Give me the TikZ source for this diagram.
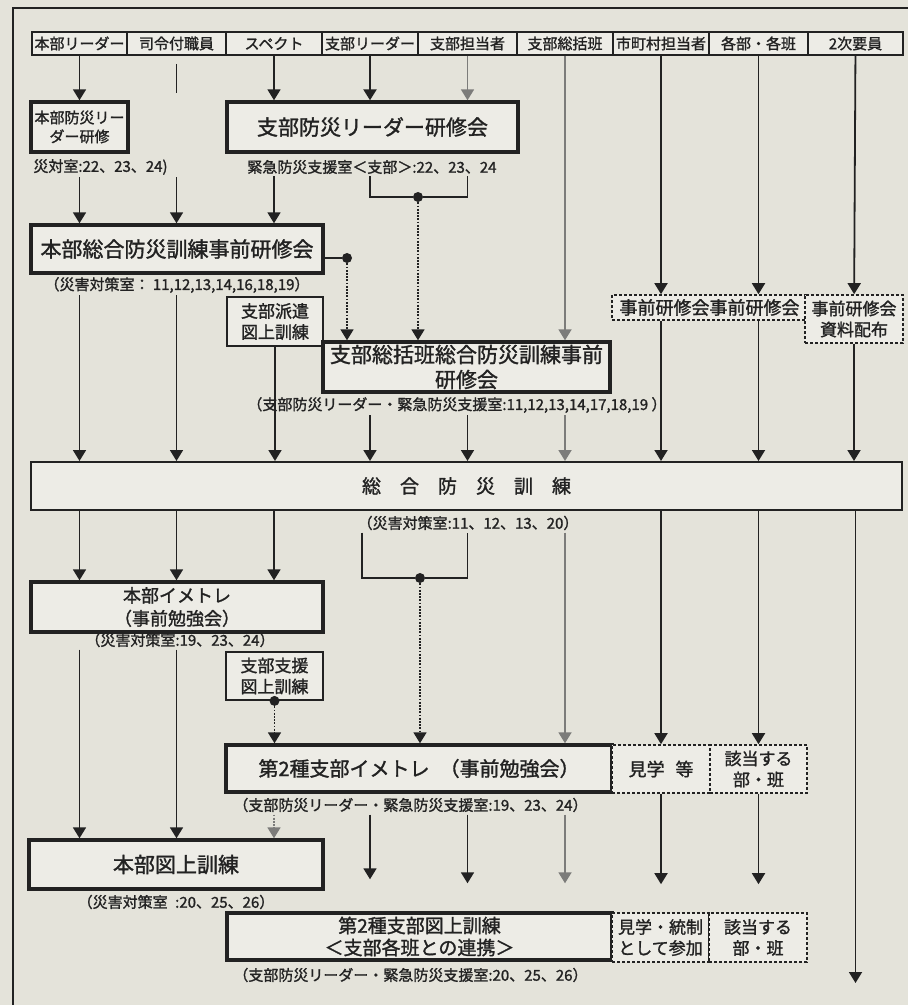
\documentclass[tikz,border=0pt]{standalone}
\usepackage{fontspec}
\setmainfont{Noto Sans CJK JP}[FakeBold=1.4]
\usetikzlibrary{arrows.meta}
\definecolor{paperBg}{HTML}{E4E3DA}
\definecolor{boxFill}{HTML}{EDECE6}
\definecolor{inkDark}{HTML}{222222}
\definecolor{inkGray}{HTML}{7C7C7A}

\begin{document}
\begin{tikzpicture}[x=0.5pt, y=-0.5pt,
    box/.style={rectangle, draw=inkDark, fill=boxFill, line width=1.7pt,
                inner sep=1pt, align=center, text=inkDark,
                font=\fontsize{10.5pt}{12.5pt}\selectfont},
    thinbox/.style={box, line width=0.9pt,
                font=\fontsize{8.5pt}{10.5pt}\selectfont},
    dashbox/.style={box, line width=0.8pt, dash pattern=on 1.5pt off 1pt,
                font=\fontsize{8.5pt}{10.5pt}\selectfont},
    head/.style={rectangle, draw=inkDark, fill=boxFill, line width=1pt,
                minimum height=11.5pt, inner sep=0pt, text=inkDark,
                font=\fontsize{7.5pt}{8pt}\selectfont},
    note/.style={inner sep=1pt, text=inkDark,
                font=\fontsize{7.5pt}{8pt}\selectfont},
    wire/.style={draw=inkDark, line width=0.9pt},
    flow/.style={wire, -{Triangle[width=6.5pt,length=5.5pt]}},
    dimflow/.style={flow, draw=inkGray},
    dotflow/.style={flow, dash pattern=on 0.9pt off 0.7pt},
    dot/.style={circle, fill=inkDark, inner sep=0pt, minimum size=5pt},
    stopshort/.style={shorten >=14pt},
  ]
  \fill[paperBg] (0,0) rectangle (908,1005);
  \useasboundingbox (0,0) rectangle (908,1005);
  \draw[inkDark, line width=1.2pt] (13,1005) -- (13,8) -- (908,8);

  % header row
  \node[head, minimum width=47.5pt] (h1) at (79.5,43.5) {本部リーダー};
  \node[head, minimum width=49.5pt] (h2) at (176.5,43.5) {司令付職員};
  \node[head, minimum width=48pt] (h3) at (274,43.5) {スペクト};
  \node[head, minimum width=48pt] (h4) at (370,43.5) {支部リーダー};
  \node[head, minimum width=49.5pt] (h5) at (467.5,43.5) {支部担当者};
  \node[head, minimum width=48pt] (h6) at (565,43.5) {支部総括班};
  \node[head, minimum width=48pt] (h7) at (661,43.5) {市町村担当者};
  \node[head, minimum width=49.5pt] (h8) at (758.5,43.5) {各部・各班};
  \node[head, minimum width=47.5pt] (h9) at (855.5,43.5) {2次要員};

  % leader courses
  \node[box, minimum width=48.5pt, minimum height=25pt,
        font=\fontsize{7.5pt}{9.5pt}\selectfont] (b1) at (79.5,127) {本部防災リー\\ダー研修};
  \node[box, minimum width=145.5pt, minimum height=25pt] (b2) at (372.5,127) {支部防災リーダー研修会};
  \node[note, anchor=west] (lb1) at (31,167) {災対室:22、23、24)};
  \node[note, anchor=west] (lb2) at (245,167) {緊急防災支援室＜支部＞:22、23、24};
  \node[dot] (k1) at (418,197) {};

  % pre-training
  \node[box, minimum width=146pt, minimum height=24pt] (b3) at (177,249) {本部総合防災訓練事前研修会};
  \node[dot] (k2) at (347,258) {};
  \node[note] (lb3) at (177,285) {（災害対策室： 11,12,13,14,16,18,19）};
  \node[thinbox, minimum width=48pt, minimum height=24.5pt] (b3a) at (275,321.5) {支部派遣\\図上訓練};
  \node[box, minimum width=143.5pt, minimum height=25pt] (b4) at (466.5,367) {支部総括班総合防災訓練事前\\研修会};
  \node[note, anchor=west] (lb4) at (245,405) {（支部防災リーダー・緊急防災支援室:11,12,13,14,17,18,19 ）};
  \node[dashbox, minimum width=97.5pt, minimum height=12.5pt,
        font=\fontsize{9pt}{10pt}\selectfont] (d1) at (709.5,307.5) {事前研修会事前研修会};
  \node[dashbox, minimum width=49pt, minimum height=24pt] (d2) at (854,319) {事前研修会\\資料配布};

  % main drill
  \node[box, line width=1pt, minimum width=435.5pt, minimum height=24pt,
        font=\fontsize{9.5pt}{11pt}\selectfont] (b5) at (466.5,486)
        {総\hspace{1em}合\hspace{1em}防\hspace{1em}災\hspace{1em}訓\hspace{1em}練};
  \node[note] (lb5) at (468,523) {（災害対策室:11、12、13、20）};
  \node[dot] (k3) at (420,578) {};

  % image training
  \node[box, minimum width=146pt, minimum height=25pt,
        font=\fontsize{9pt}{11.5pt}\selectfont] (b6) at (177,607) {本部イメトレ\\（事前勉強会）};
  \node[note] (lb6) at (180,640) {（災害対策室:19、23、24）};
  \node[thinbox, minimum width=48.5pt, minimum height=24pt] (b6a) at (274.5,676) {支部支援\\図上訓練};
  \node[dot] (k4) at (b6a.south) {};
  \node[box, minimum width=193pt, minimum height=23.5pt,
        font=\fontsize{10pt}{12pt}\selectfont] (b7) at (419,768.5) {第2種支部イメトレ\hspace{0.5em}（事前勉強会）};
  \node[dashbox, minimum width=49pt, minimum height=24pt,
        font=\fontsize{9pt}{10.5pt}\selectfont] (d3) at (661,769) {見学\hspace{0.6em}等};
  \node[dashbox, minimum width=48.5pt, minimum height=24pt] (d4) at (758.5,769) {該当する\\部・班};
  \node[note, anchor=west] (lb7) at (231,805) {（支部防災リーダー・緊急防災支援室:19、23、24）};

  % map exercises
  \node[box, minimum width=147pt, minimum height=24.5pt] (b8) at (176,864.5) {本部図上訓練};
  \node[note] (lb8) at (176,902) {（災害対策室\hspace{0.5em}:20、25、26）};
  \node[box, minimum width=192.5pt, minimum height=23.5pt,
        font=\fontsize{9.5pt}{11pt}\selectfont] (b9) at (419.5,936.5) {第2種支部図上訓練\\＜支部各班との連携＞};
  \node[dashbox, minimum width=48.5pt, minimum height=24.5pt] (d5) at (660.5,937.5) {見学・統制\\として参加};
  \node[dashbox, minimum width=49pt, minimum height=24.5pt] (d6) at (758,937.5) {該当する\\部・班};
  \node[note, anchor=west] (lb9) at (231,975) {（支部防災リーダー・緊急防災支援室:20、25、26）};
  \coordinate (e9) at (855.5,983);

  % header -> first row
  \draw[flow] (h1) -- (b1);
  \draw[wire] ([yshift=-4pt]h2.south) -- ++(0,29);
  \draw[flow] (h3) -- (h3 |- b2.north);
  \draw[flow, line width=1.2pt] (h4) -- (h4 |- b2.north);
  \draw[dimflow] (h5) -- (h5 |- b2.north);
  \draw[dimflow] (h6) -- (h6 |- b4.north);
  \draw[flow] (h7) -- (h7 |- d1.north);
  \draw[flow] (h8) -- (h8 |- d1.north);
  \draw[flow] (h9) -- (d2);

  % -> pre-training
  \draw[flow] (h1 |- lb1.south) -- (h1 |- b3.north);
  \draw[flow] (h2 |- lb1.south) -- (h2 |- b3.north);
  \draw[flow] (h3 |- lb2.south) -- (h3 |- b3.north);
  \draw[wire] (h4 |- lb2.south) |- (k1) -| (h5 |- lb2.south);
  \draw[dotflow] (k1) -- (k1 |- b4.north);
  \draw[wire] (b3.east |- k2) -- (k2);
  \draw[dotflow] (k2) -- (k2 |- b4.north);

  % -> main drill
  \draw[flow] (h1 |- lb3.south) -- (h1 |- b5.north);
  \draw[flow] (h2 |- lb3.south) -- (h2 |- b5.north);
  \draw[flow] (b3a) -- (b3a |- b5.north);
  \draw[flow] (h4 |- lb4.south) -- (h4 |- b5.north);
  \draw[flow] (h5 |- lb4.south) -- (h5 |- b5.north);
  \draw[dimflow] (h6 |- lb4.south) -- (h6 |- b5.north);
  \draw[flow] (h7 |- d1.south) -- (h7 |- b5.north);
  \draw[flow] (h8 |- d1.south) -- (h8 |- b5.north);
  \draw[flow] (d2) -- (d2 |- b5.north);

  % main drill -> image training
  \draw[flow] (h1 |- b5.south) -- (h1 |- b6.north);
  \draw[flow] (h2 |- b5.south) -- (h2 |- b6.north);
  \draw[flow] (h3 |- b5.south) -- (h3 |- b6.north);
  \draw[wire] ([xshift=-29pt]k3 |- lb5.south) |- (k3) -| (h5 |- lb5.south);
  \draw[dotflow] (k3) -- (k3 |- b7.north);
  \draw[dimflow] (h6 |- lb5.south) -- (h6 |- b7.north);
  \draw[flow] (h7 |- b5.south) -- (d3);
  \draw[flow] (h8 |- b5.south) -- (d4);
  \draw[flow] (h9 |- b5.south) -- (e9);
  \draw[dotflow] (k4) -- (k4 |- b7.north);

  % -> map exercises
  \draw[flow] (h1 |- lb6.south) -- (h1 |- b8.north);
  \draw[flow] (h2 |- lb6.south) -- (h2 |- b8.north);
  \draw[dimflow, dash pattern=on 0.9pt off 0.7pt] (h3 |- lb7.south) -- (h3 |- b8.north);
  \draw[flow, shorten >=16pt] (h4 |- lb7.south) -- (h4 |- b9.north);
  \draw[flow, stopshort] (h5 |- lb7.south) -- (h5 |- b9.north);
  \draw[dimflow, stopshort] (h6 |- lb7.south) -- (h6 |- b9.north);
  \draw[flow, stopshort] (d3) -- (d3 |- d5.north);
  \draw[flow, stopshort] (d4) -- (d4 |- d6.north);
\end{tikzpicture}
\end{document}
